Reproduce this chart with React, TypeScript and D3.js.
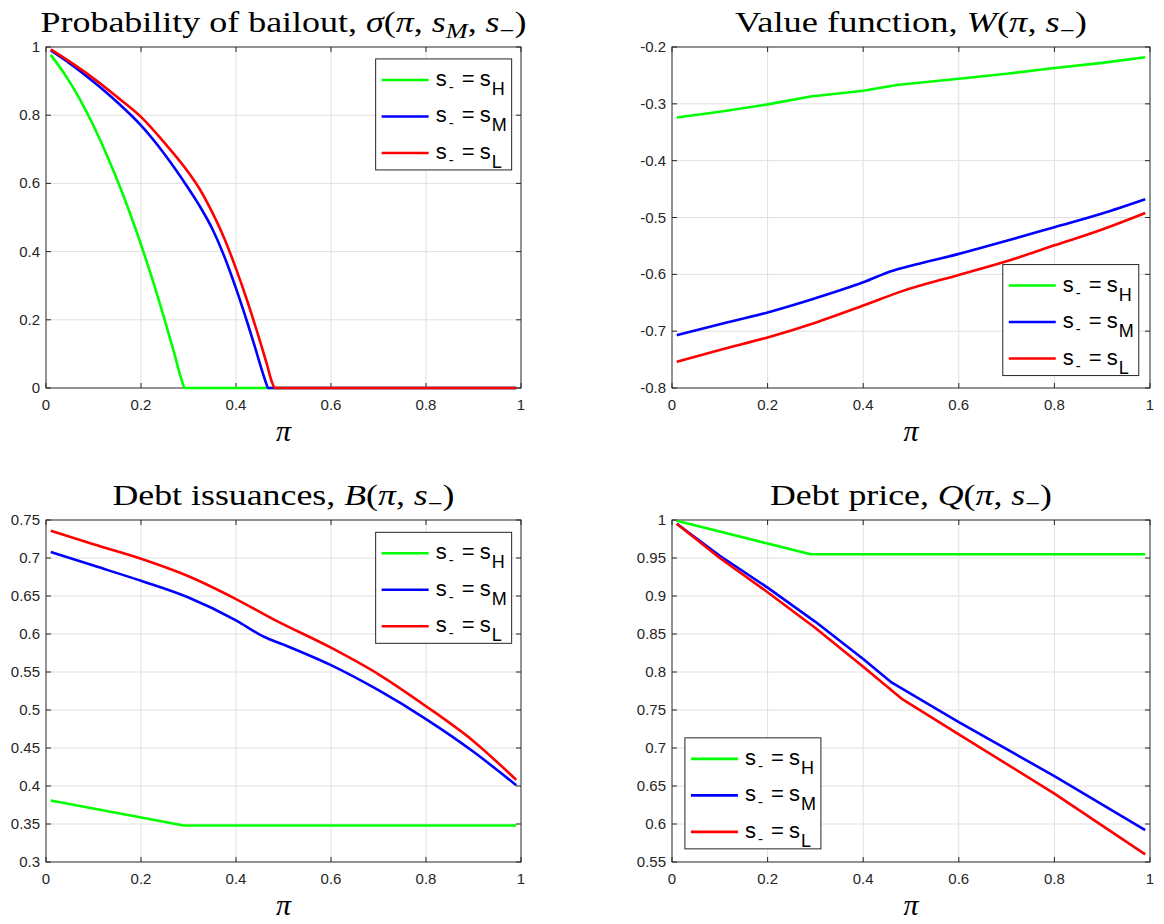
import React from 'react';
import * as d3 from 'd3';

// ---------- shared ----------
const X_TICKS = [0, 0.2, 0.4, 0.6, 0.8, 1];
const X_TICK_LABELS = ['0', '0.2', '0.4', '0.6', '0.8', '1'];
const SERIES_COLORS = ['#00ff00', '#0000ff', '#ff0000'];
const LEGEND_SUBS = ['H', 'M', 'L'];

// ---------- panel 1: probability of bailout ----------
const SIG_PI_H = [0.01, 0.04, 0.07, 0.1, 0.13, 0.16, 0.19, 0.22, 0.25, 0.27, 0.285, 0.292, 0.99];
const SIG_H = [0.977, 0.919, 0.85, 0.769, 0.677, 0.575, 0.461, 0.336, 0.199, 0.102, 0.026, 0, 0];
const SIG_PI_M = [0.01, 0.05, 0.1, 0.15, 0.2, 0.25, 0.3, 0.325, 0.35, 0.375, 0.4, 0.425, 0.44, 0.455, 0.462, 0.468, 0.99];
const SIG_M = [0.99, 0.952, 0.898, 0.838, 0.77, 0.685, 0.585, 0.53, 0.467, 0.387, 0.292, 0.187, 0.12, 0.05, 0.02, 0, 0];
const SIG_PI_L = [0.01, 0.05, 0.1, 0.15, 0.2, 0.25, 0.3, 0.325, 0.35, 0.375, 0.4, 0.425, 0.45, 0.465, 0.475, 0.482, 0.99];
const SIG_L = [0.993, 0.957, 0.908, 0.853, 0.795, 0.718, 0.632, 0.58, 0.515, 0.44, 0.35, 0.25, 0.14, 0.07, 0.02, 0, 0];
const SIG_Y_TICKS = [0, 0.2, 0.4, 0.6, 0.8, 1];
const SIG_Y_LABELS = ['0', '0.2', '0.4', '0.6', '0.8', '1'];

// ---------- panel 2: value function ----------
const W_PI_H = [0.01, 0.1, 0.2, 0.29, 0.4, 0.47, 0.6, 0.7, 0.8, 0.9, 0.99];
const W_H = [-0.324, -0.314, -0.301, -0.287, -0.277, -0.267, -0.256, -0.247, -0.237, -0.228, -0.218];
const W_PI_M = [0.01, 0.1, 0.2, 0.3, 0.4, 0.46, 0.5, 0.6, 0.7, 0.8, 0.9, 0.99];
const W_M = [-0.707, -0.688, -0.667, -0.642, -0.614, -0.594, -0.585, -0.564, -0.541, -0.517, -0.493, -0.468];
const W_PI_L = [0.01, 0.1, 0.2, 0.3, 0.4, 0.48, 0.6, 0.7, 0.8, 0.9, 0.99];
const W_L = [-0.754, -0.733, -0.711, -0.685, -0.655, -0.630, -0.601, -0.577, -0.549, -0.521, -0.492];
const W_Y_TICKS = [-0.8, -0.7, -0.6, -0.5, -0.4, -0.3, -0.2];
const W_Y_LABELS = ['-0.8', '-0.7', '-0.6', '-0.5', '-0.4', '-0.3', '-0.2'];

// ---------- panel 3: debt issuances ----------
const B_PI_H = [0.01, 0.29, 0.99];
const B_H = [0.381, 0.348, 0.348];
const B_PI_M = [0.01, 0.1, 0.2, 0.3, 0.4, 0.46, 0.5, 0.6, 0.7, 0.8, 0.9, 0.99];
const B_M = [0.708, 0.690, 0.670, 0.648, 0.618, 0.596, 0.586, 0.559, 0.526, 0.488, 0.445, 0.401];
const B_PI_L = [0.01, 0.1, 0.2, 0.3, 0.4, 0.48, 0.6, 0.7, 0.8, 0.9, 0.99];
const B_L = [0.736, 0.718, 0.699, 0.676, 0.646, 0.619, 0.582, 0.547, 0.505, 0.459, 0.408];
const B_Y_TICKS = [0.3, 0.35, 0.4, 0.45, 0.5, 0.55, 0.6, 0.65, 0.7, 0.75];
const B_Y_LABELS = ['0.3', '0.35', '0.4', '0.45', '0.5', '0.55', '0.6', '0.65', '0.7', '0.75'];

// ---------- panel 4: debt price ----------
const Q_PI_H = [0.01, 0.29, 0.99];
const Q_H = [0.999, 0.955, 0.955];
const Q_PI_M = [0.01, 0.1, 0.2, 0.3, 0.4, 0.46, 0.6, 0.8, 0.99];
const Q_M = [0.995, 0.953, 0.911, 0.866, 0.817, 0.786, 0.734, 0.663, 0.592];
const Q_PI_L = [0.01, 0.1, 0.2, 0.3, 0.4, 0.48, 0.6, 0.8, 0.99];
const Q_L = [0.995, 0.950, 0.905, 0.858, 0.807, 0.765, 0.718, 0.640, 0.560];
const Q_Y_TICKS = [0.55, 0.6, 0.65, 0.7, 0.75, 0.8, 0.85, 0.9, 0.95, 1];
const Q_Y_LABELS = ['0.55', '0.6', '0.65', '0.7', '0.75', '0.8', '0.85', '0.9', '0.95', '1'];

type Seg = { t: string; i?: boolean; sub?: boolean };

const TITLE_1: Seg[] = [
  { t: 'Probability of bailout, ' }, { t: 'σ', i: true }, { t: '(' }, { t: 'π', i: true },
  { t: ', ' }, { t: 's', i: true }, { t: 'M', i: true, sub: true }, { t: ', ' },
  { t: 's', i: true }, { t: '−', sub: true }, { t: ')' },
];
const TITLE_2: Seg[] = [
  { t: 'Value function, ' }, { t: 'W', i: true }, { t: '(' }, { t: 'π', i: true },
  { t: ', ' }, { t: 's', i: true }, { t: '−', sub: true }, { t: ')' },
];
const TITLE_3: Seg[] = [
  { t: 'Debt issuances, ' }, { t: 'B', i: true }, { t: '(' }, { t: 'π', i: true },
  { t: ', ' }, { t: 's', i: true }, { t: '−', sub: true }, { t: ')' },
];
const TITLE_4: Seg[] = [
  { t: 'Debt price, ' }, { t: 'Q', i: true }, { t: '(' }, { t: 'π', i: true },
  { t: ', ' }, { t: 's', i: true }, { t: '−', sub: true }, { t: ')' },
];

const COLS = [{ l: 46, r: 521 }, { l: 672, r: 1150 }];
const ROWS = [{ t: 47, b: 388 }, { t: 520, b: 862 }];

const AXIS_COLOR = '#262626';
const GRID_COLOR = '#e0e0e0';
const SANS = '"Liberation Sans", Arial, Helvetica, sans-serif';
const SERIF = '"Liberation Serif", "Times New Roman", serif';

type Series = { x: number[]; y: number[]; smooth?: boolean };

interface PanelProps {
  l: number; r: number; t: number; b: number;
  yDomain: [number, number];
  yTicks: number[]; yLabels: string[];
  series: Series[];
  title: Seg[]; titleWidth: number;
  legendFx: number; legendFy: number;
}

function renderSegs(segs: Seg[], subSize: number, subShift: number) {
  let cur = 0;
  return segs.map((s, k) => {
    const target = s.sub ? subShift : 0;
    const dy = target - cur;
    cur = target;
    return (
      <tspan key={k} dy={dy} fontStyle={s.i ? 'italic' : 'normal'} fontSize={s.sub ? subSize : undefined}>
        {s.t}
      </tspan>
    );
  });
}

function Panel(p: PanelProps) {
  const x = d3.scaleLinear().domain([0, 1]).range([p.l, p.r]);
  const y = d3.scaleLinear().domain(p.yDomain).range([p.b, p.t]);
  const tick = 5;
  const lw = 136, lh = 111;
  const lx = p.l + p.legendFx * (p.r - p.l);
  const ly = p.t + p.legendFy * (p.b - p.t);
  const cx = (p.l + p.r) / 2;
  return (
    <g>
      {/* grid */}
      {X_TICKS.slice(1, -1).map((v) => (
        <line key={'gx' + v} x1={x(v)} x2={x(v)} y1={p.t} y2={p.b} stroke={GRID_COLOR} strokeWidth={1} />
      ))}
      {p.yTicks.slice(1, -1).map((v) => (
        <line key={'gy' + v} x1={p.l} x2={p.r} y1={y(v)} y2={y(v)} stroke={GRID_COLOR} strokeWidth={1} />
      ))}
      {/* axes box */}
      <rect x={p.l} y={p.t} width={p.r - p.l} height={p.b - p.t} fill="none" stroke={AXIS_COLOR} strokeWidth={1} />
      {X_TICKS.map((v) => (
        <g key={'tx' + v}>
          <line x1={x(v)} x2={x(v)} y1={p.b} y2={p.b - tick} stroke={AXIS_COLOR} />
          <line x1={x(v)} x2={x(v)} y1={p.t} y2={p.t + tick} stroke={AXIS_COLOR} />
        </g>
      ))}
      {p.yTicks.map((v) => (
        <g key={'ty' + v}>
          <line x1={p.l} x2={p.l + tick} y1={y(v)} y2={y(v)} stroke={AXIS_COLOR} />
          <line x1={p.r} x2={p.r - tick} y1={y(v)} y2={y(v)} stroke={AXIS_COLOR} />
        </g>
      ))}
      {X_TICKS.map((v, k) => (
        <text key={'lx' + v} x={x(v)} y={p.b + 22} textAnchor="middle" fontFamily={SANS} fontSize={15} fill={AXIS_COLOR}>
          {X_TICK_LABELS[k]}
        </text>
      ))}
      {p.yTicks.map((v, k) => (
        <text key={'ly' + v} x={p.l - 6} y={y(v) + 5} textAnchor="end" fontFamily={SANS} fontSize={15} fill={AXIS_COLOR}>
          {p.yLabels[k]}
        </text>
      ))}
      {/* data */}
      {p.series.map((s, k) => {
        const line = d3.line<[number, number]>().x((d) => x(d[0])).y((d) => y(d[1]))
          .curve(s.smooth ? d3.curveMonotoneX : d3.curveLinear);
        return (
          <path key={'s' + k} d={line(s.x.map((v, j) => [v, s.y[j]] as [number, number])) || ''} fill="none"
            stroke={SERIES_COLORS[k]} strokeWidth={2.6} strokeLinejoin="round" />
        );
      })}
      {/* title */}
      <text x={cx} y={p.t - 15} textAnchor="middle" fontFamily={SERIF} fontSize={30} fill="#000"
        textLength={p.titleWidth} lengthAdjust="spacingAndGlyphs">
        {renderSegs(p.title, 22, 6)}
      </text>
      {/* x label */}
      <text x={cx} y={p.b + 53} textAnchor="middle" fontFamily={SERIF} fontStyle="italic" fontSize={30} fill="#000">π</text>
      {/* legend */}
      <rect x={lx} y={ly} width={lw} height={lh} fill="#fff" stroke={AXIS_COLOR} strokeWidth={1} />
      {SERIES_COLORS.map((c, k) => {
        const ry = ly + 21 + k * 36.5;
        return (
          <g key={'lg' + k}>
            <line x1={lx + 6} x2={lx + 53} y1={ry} y2={ry} stroke={c} strokeWidth={2.6} />
            <text fontFamily={SANS} fontSize={22} fill="#000">
              <tspan x={lx + 60} y={ry + 6}>s</tspan>
              <tspan x={lx + 73} y={ry + 12} fontSize={15}>-</tspan>
              <tspan x={lx + 86} y={ry + 6}>=</tspan>
              <tspan x={lx + 104} y={ry + 6}>s</tspan>
              <tspan x={lx + 116} y={ry + 15} fontSize={18}>{LEGEND_SUBS[k]}</tspan>
            </text>
          </g>
        );
      })}
    </g>
  );
}

export default function App() {
  return (
    <svg width={1164} height={924} style={{ position: 'absolute', left: 0, top: 0, background: '#fff' }}>
      <rect x={0} y={0} width={1164} height={924} fill="#fff" />
      <Panel l={COLS[0].l} r={COLS[0].r} t={ROWS[0].t} b={ROWS[0].b} yDomain={[0, 1]}
        yTicks={SIG_Y_TICKS} yLabels={SIG_Y_LABELS}
        series={[{ x: SIG_PI_H, y: SIG_H, smooth: true }, { x: SIG_PI_M, y: SIG_M, smooth: true }, { x: SIG_PI_L, y: SIG_L, smooth: true }]}
        title={TITLE_1} titleWidth={486} legendFx={0.694} legendFy={0.035} />
      <Panel l={COLS[1].l} r={COLS[1].r} t={ROWS[0].t} b={ROWS[0].b} yDomain={[-0.8, -0.2]}
        yTicks={W_Y_TICKS} yLabels={W_Y_LABELS}
        series={[{ x: W_PI_H, y: W_H }, { x: W_PI_M, y: W_M, smooth: true }, { x: W_PI_L, y: W_L, smooth: true }]}
        title={TITLE_2} titleWidth={352} legendFx={0.692} legendFy={0.638} />
      <Panel l={COLS[0].l} r={COLS[0].r} t={ROWS[1].t} b={ROWS[1].b} yDomain={[0.3, 0.75]}
        yTicks={B_Y_TICKS} yLabels={B_Y_LABELS}
        series={[{ x: B_PI_H, y: B_H }, { x: B_PI_M, y: B_M, smooth: true }, { x: B_PI_L, y: B_L, smooth: true }]}
        title={TITLE_3} titleWidth={342} legendFx={0.694} legendFy={0.036} />
      <Panel l={COLS[1].l} r={COLS[1].r} t={ROWS[1].t} b={ROWS[1].b} yDomain={[0.55, 1]}
        yTicks={Q_Y_TICKS} yLabels={Q_Y_LABELS}
        series={[{ x: Q_PI_H, y: Q_H }, { x: Q_PI_M, y: Q_M }, { x: Q_PI_L, y: Q_L }]}
        title={TITLE_4} titleWidth={282} legendFx={0.027} legendFy={0.637} />
    </svg>
  );
}
